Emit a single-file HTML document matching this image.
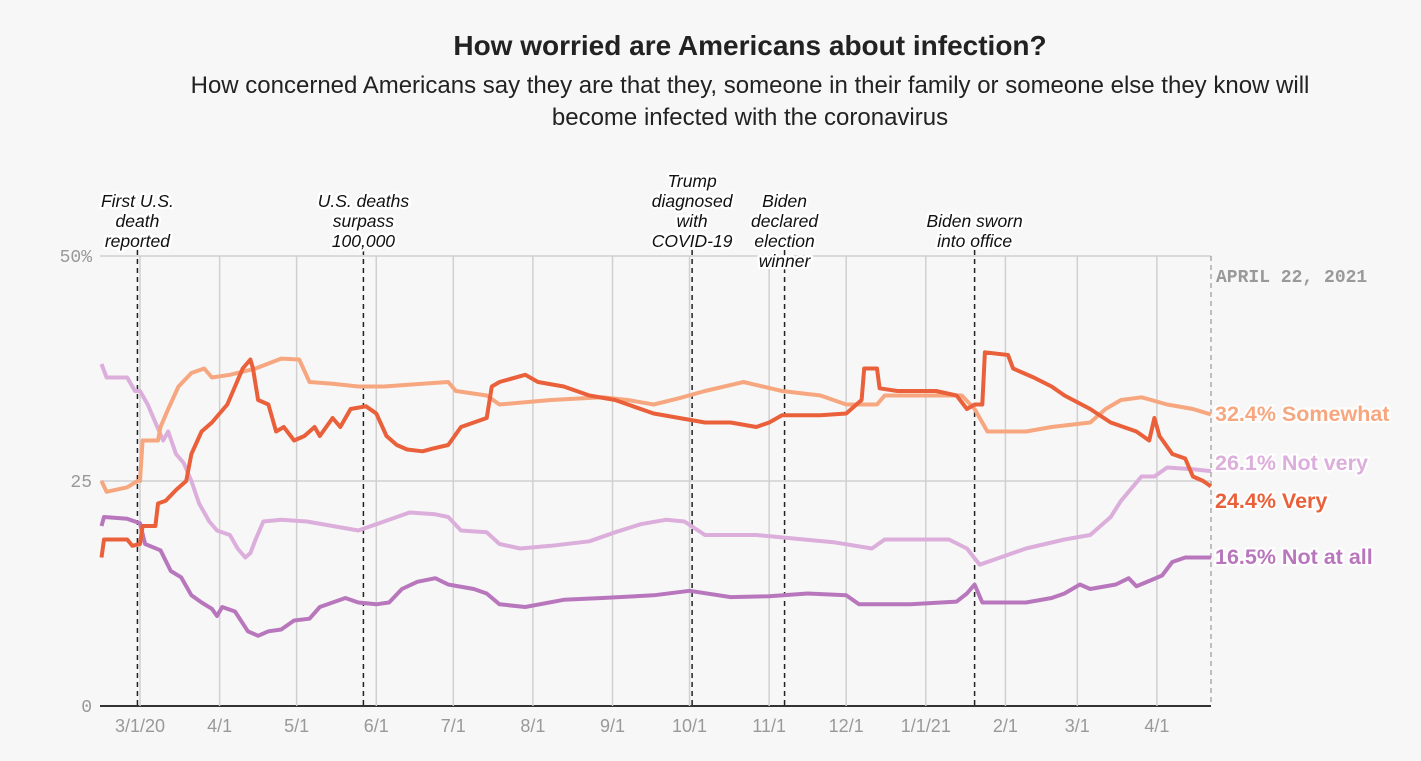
<!DOCTYPE html>
<html><head><meta charset="utf-8"><style>
body{margin:0;background:#f7f7f7;font-family:"Liberation Sans",sans-serif;}
svg{display:block}
</style></head><body>
<svg width="1421" height="761">
<text x="750" y="55" text-anchor="middle" font-size="28" font-weight="bold" fill="#222">How worried are Americans about infection?</text>
<text x="750" y="93" text-anchor="middle" font-size="24" fill="#222">How concerned Americans say they are that they, someone in their family or someone else they know will</text>
<text x="750" y="125" text-anchor="middle" font-size="24" fill="#222">become infected with the coronavirus</text>
<g id="grid"></g><g id="events"></g><g id="lines"></g><g id="labels"></g>
</svg>
<script>
const NS="http://www.w3.org/2000/svg";
const monthDays=[0,31,61,92,122,153,184,214,245,275,306,337,365,396];
const monthLabels=["3/1/20","4/1","5/1","6/1","7/1","8/1","9/1","10/1","11/1","12/1","1/1/21","2/1","3/1","4/1"];
const yTicks=[0,25,50];
const yTickLabels=["0","25","50%"];
const eventDays=[-1,87,215,251,325];
const eventTexts=[["First U.S.","death","reported"],["U.S. deaths","surpass","100,000"],["Trump","diagnosed","with","COVID-19"],["Biden","declared","election","winner"],["Biden sworn","into office"]];
const eventBottomShift=[0,0,0,20,0];
const veryDays=[-15,-14,-5,-3,0,1,6,7,10,14,18,20,24,28,31,34,37,40,43,44,46,50,53,56,60,64,68,70,75,78,82,88,92,96,100,104,110,114,120,125,130,135,137,140,150,155,165,175,185,190,200,210,220,230,240,245,250,265,275,281,282,287,288,295,310,318,322,325,328,329,338,340,348,355,360,370,378,388,393,395,397,402,407,410,414,417];
const veryVals=[16.5,18.5,18.5,17.8,18,20,20,22.5,22.8,24,25,28,30.5,31.5,32.5,33.5,35.5,37.5,38.5,37.5,34,33.5,30.5,31,29.5,30,31,30,32,31,33,33.3,32.5,30,29,28.5,28.3,28.6,29,31,31.5,32,35.5,36,36.8,36,35.5,34.5,34,33.5,32.5,32,31.5,31.5,31,31.5,32.3,32.3,32.5,34,37.5,37.5,35.3,35,35,34.5,33,33.5,33.5,39.3,39,37.5,36.5,35.5,34.5,33,31.5,30.5,29.5,32,30,28,27.5,25.5,25,24.4];
const someDays=[-15,-13,-5,-1,0,1,7,8,11,15,20,25,28,35,45,55,62,66,75,85,95,110,120,123,135,140,160,180,190,200,210,220,235,250,265,275,287,290,320,325,330,345,355,370,376,382,390,400,410,417];
const someVals=[25,23.8,24.3,25,25,29.5,29.5,31,33,35.5,37,37.5,36.5,36.8,37.5,38.6,38.5,36,35.8,35.5,35.5,35.8,36,35,34.5,33.5,34,34.3,34,33.5,34.2,35,36,35,34.5,33.5,33.5,34.5,34.5,33,30.5,30.5,31,31.5,33,34,34.3,33.5,33,32.4];
const notVeryDays=[-15,-13,-5,-2,0,3,6,9,11,14,17,20,23,27,30,35,38,41,43,45,48,55,65,75,85,95,105,115,120,125,135,140,148,160,175,185,195,205,212,220,240,255,270,285,290,315,322,327,335,345,360,370,378,382,390,395,400,410,417];
const notVeryVals=[38,36.5,36.5,35,35,33.5,31.5,29.5,30.5,28,27,25,22.5,20.5,19.5,19,17.5,16.5,17,18.5,20.5,20.7,20.5,20,19.5,20.5,21.5,21.3,21,19.5,19.3,18,17.5,17.8,18.3,19.3,20.2,20.7,20.5,19,19,18.6,18.2,17.5,18.5,18.5,17.5,15.7,16.5,17.5,18.5,19,21,22.8,25.5,25.5,26.5,26.3,26.1];
const notAtAllDays=[-15,-14,-5,0,2,8,12,16,20,24,28,30,32,37,42,46,50,55,60,66,70,75,80,85,92,97,102,108,115,120,130,135,140,150,165,180,200,214,230,245,260,275,280,300,318,322,325,328,345,355,360,366,370,380,385,388,398,402,407,417];
const notAtAllVals=[20,21,20.8,20.3,18,17.3,15,14.3,12.3,11.5,10.8,10,11,10.5,8.3,7.8,8.3,8.5,9.5,9.7,11,11.5,12,11.5,11.3,11.5,13,13.8,14.2,13.5,13,12.5,11.3,11,11.8,12,12.3,12.8,12.1,12.2,12.5,12.3,11.3,11.3,11.6,12.5,13.5,11.5,11.5,12,12.5,13.5,13,13.5,14.2,13.3,14.5,16,16.5,16.5];
const seriesNames=["Somewhat","Not very","Very","Not at all"];
const seriesEnd=["32.4%","26.1%","24.4%","16.5%"];
const seriesColors=["#f7a77f","#dcaedb","#e9603a","#b877bd"];

const x=d=>140+d*2.568;
const y=v=>706-v*9;
function el(t,a,p){const e=document.createElementNS(NS,t);for(const k in a)e.setAttribute(k,a[k]);document.getElementById(p).appendChild(e);return e;}
const X0=100,X1=1211;
yTicks.forEach((v,i)=>{
 const l=el("line",{x1:X0,x2:X1,y1:y(v),y2:y(v),stroke:v===0?"#333":"#d0d0d0","stroke-width":v===0?2:1.5},"grid");
 
 
 const t=el("text",{x:92,y:y(v)+6,"text-anchor":"end","font-size":18,fill:"#999","font-family":"Liberation Mono,monospace"},"grid");
 t.textContent=yTickLabels[i];
 
 
});
monthDays.forEach((d,i)=>{
 const l=el("line",{x1:x(d),x2:x(d),y1:y(50),y2:y(0),stroke:"#d0d0d0","stroke-width":1.5},"grid");
 
 
 const t=el("text",{x:x(d),y:732,"text-anchor":"middle","font-size":18,fill:"#999"},"grid");
 t.textContent=monthLabels[i];
 
 
});
const endLine=el("line",{x1:X1,x2:X1,y1:y(50),y2:y(0),stroke:"#999","stroke-width":1.2,"stroke-dasharray":"5,4"},"grid");


const dt=el("text",{x:1216,y:282,"font-size":18,"font-weight":"bold",fill:"#999","font-family":"Liberation Mono,monospace"},"labels");
dt.textContent="APRIL 22, 2021";


eventDays.forEach((d,i)=>{
 const l=el("line",{x1:x(d),x2:x(d),y1:250,y2:y(0),stroke:"#222","stroke-width":1.5,"stroke-dasharray":"5,4"},"events");
 
 
 const lines=eventTexts[i];const bottom=247+eventBottomShift[i];
 lines.forEach((s,j)=>{
  const t=el("text",{x:x(d),y:bottom-(lines.length-1-j)*20,"text-anchor":"middle","font-size":17.5,"font-style":"italic",fill:"#111",stroke:"#fff","stroke-width":5,"paint-order":"stroke","stroke-linejoin":"round"},"events");
  t.textContent=s;
  
  
 });
});
const allDays=[someDays,notVeryDays,veryDays,notAtAllDays];
const allVals=[someVals,notVeryVals,veryVals,notAtAllVals];
const order=[1,3,0,2];
order.forEach(i=>{
 const ds=allDays[i],vs=allVals[i];
 const d=ds.map((dd,k)=>(k?"L":"M")+x(dd).toFixed(1)+","+y(vs[k]).toFixed(1)).join("");
 const p=el("path",{d:d,fill:"none",stroke:seriesColors[i],"stroke-width":4,"stroke-linejoin":"round"},"lines");
 
 
});
const labelY=[421,470,508,564];
seriesNames.forEach((n,i)=>{
 const t=el("text",{x:1215,y:labelY[i],"font-size":21.5,"font-weight":"bold",fill:seriesColors[i],stroke:"#fff","stroke-width":4,"paint-order":"stroke"},"labels");
 t.textContent=seriesEnd[i]+" "+n;
 
 
});
</script>
</body></html>
